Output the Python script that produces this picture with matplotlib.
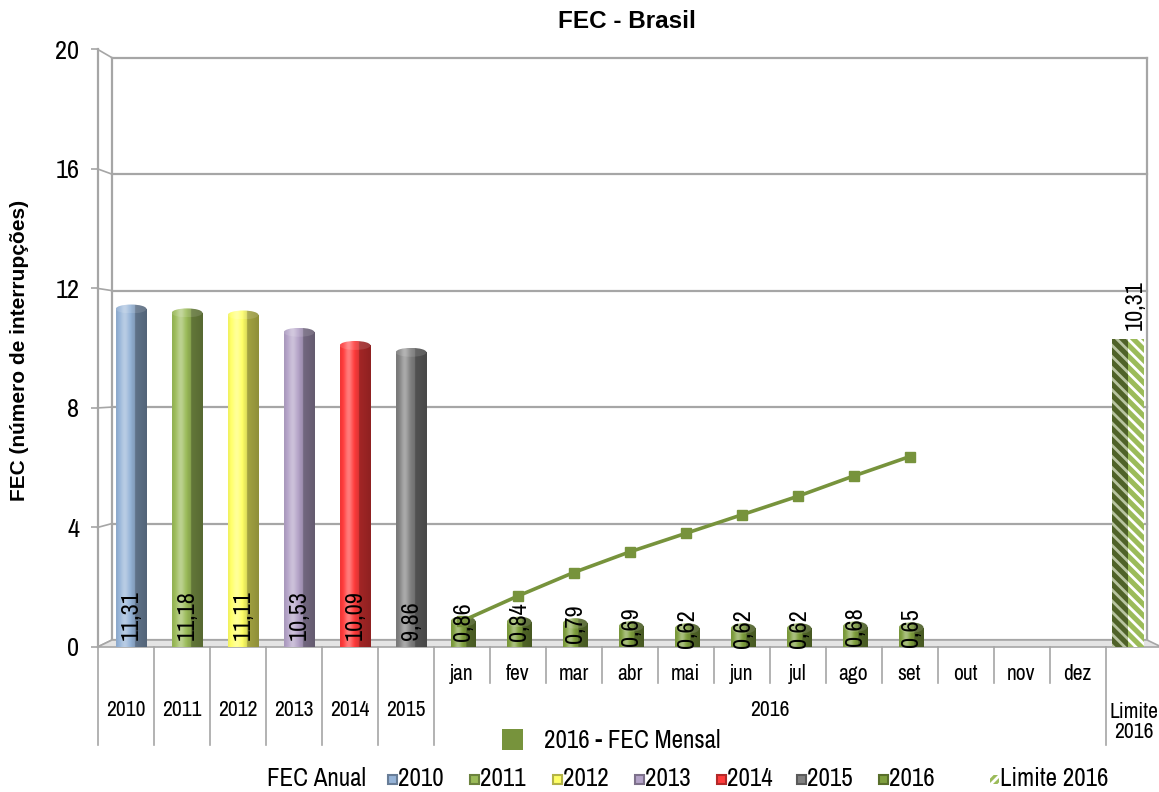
import numpy as np
import matplotlib
matplotlib.use("Agg")
import matplotlib.pyplot as plt
from matplotlib.patches import Rectangle, Ellipse, Polygon
from matplotlib.colors import to_rgb

plt.rcParams['font.family'] = ['Archivo Narrow', 'Liberation Sans', 'DejaVu Sans']
plt.rcParams['hatch.linewidth'] = 2.0

# FEC anual (2010-2015)
anos = ['2010', '2011', '2012', '2013', '2014', '2015']
fec_anual = [11.31, 11.18, 11.11, 10.53, 10.09, 9.86]
cores_anual = ['#95B3D7', '#9BBB59', '#FFFF66', '#B3A2C7', '#FF3B3B', '#808080']

# FEC mensal 2016 e acumulado
meses = ['jan', 'fev', 'mar', 'abr', 'mai', 'jun', 'jul', 'ago', 'set', 'out', 'nov', 'dez']
fec_mensal_2016 = [0.86, 0.84, 0.79, 0.69, 0.62, 0.62, 0.62, 0.68, 0.65]
fec_acumulado_2016 = [0.86, 1.70, 2.49, 3.18, 3.80, 4.42, 5.04, 5.72, 6.37]
cor_2016 = '#7F9F3E'
cor_linha = '#77933C'

limite_2016 = 10.31

W, H = 1159, 792
PX_UNIT = (647 - 49.3) / 20
GRID = '#A6A6A6'


def fx(px):
    return px / W


def fy(py):
    return 1 - py / H


def xpx(px):
    # pixel column -> category coordinate
    return (px - 97.5) / 56 - 0.5


def ypx(py):
    # pixel row -> value coordinate
    return (647 - py) / PX_UNIT


def back_y(v):
    # back wall sits a little lower/smaller (3D look)
    return ypx(640) + v * (640 - 57.7) / 20 / PX_UNIT


def fmt(v):
    return f'{v:.2f}'.replace('.', ',')


def shade(base, lift=0.0, n=96):
    c = np.array(to_rgb(base))
    t = np.linspace(0, 1, n)
    front = t < 0.62
    f = np.where(front,
                 0.93 + 0.4 * np.exp(-((t - 0.28) / 0.15) ** 2) - 0.05 * np.clip((t - 0.45) / 0.17, 0, 1),
                 0.64 - 0.08 * (t - 0.62) / 0.38)
    f = f[:, None]
    rgb = np.where(f >= 1, c + (1 - c) * (f - 1), c * f)
    rgb = rgb + (1 - rgb) * lift
    return np.clip(rgb, 0, 1)[None, :, :]


def cylinder(ax, rect, base, cap_h):
    x0, w, h = rect.get_x(), rect.get_width(), rect.get_height()
    body = ax.imshow(shade(base), extent=[x0, x0 + w, 0, h], aspect='auto',
                     interpolation='bilinear', zorder=rect.get_zorder() + 0.1)
    body.set_clip_path(rect)
    cap = Ellipse((x0 + w / 2, h), w, cap_h, facecolor='none', edgecolor='none')
    ax.add_patch(cap)
    top = ax.imshow(shade(base, lift=0.12), extent=[x0, x0 + w, h - cap_h / 2, h + cap_h / 2],
                    aspect='auto', interpolation='bilinear', zorder=rect.get_zorder() + 0.2)
    top.set_clip_path(cap)


fig = plt.figure(figsize=(W / 100, H / 100), dpi=100)
ax = fig.add_axes([fx(97.5), fy(647), 19 * 56 / W, (647 - 49.3) / H])
ax.set_facecolor('none')
for s in ax.spines.values():
    s.set_visible(False)
ax.set_xticks([])
ax.set_yticks(range(0, 21, 4))
ax.tick_params(axis='y', length=5, width=1.2, color=GRID, labelsize=19, pad=8)

# back wall, grid and floor
BX_L, BX_R = xpx(112), xpx(1147)
for v in range(0, 21, 4):
    ax.plot([BX_L, BX_R], [back_y(v)] * 2, color=GRID, lw=1.6, zorder=1)
    ax.plot([-0.5, BX_L], [v, back_y(v)], color=GRID, lw=1.2, zorder=1, clip_on=False)
ax.plot([BX_L, BX_L], [back_y(0), back_y(20)], color=GRID, lw=1.6, zorder=1)
ax.plot([BX_R, BX_R], [back_y(0), back_y(20)], color=GRID, lw=1.6, zorder=1)
ax.plot([-0.5, -0.5], [0, 20], color=GRID, lw=1.6, zorder=1, clip_on=False)
ax.add_patch(Polygon([(-0.5, 0), (18.5, 0), (BX_R, back_y(0)), (BX_L, back_y(0))],
                     closed=True, facecolor='#E4E4E4', edgecolor=GRID, lw=1.2,
                     zorder=1.5, clip_on=False))

# annual bars
x_anos = np.arange(len(anos)) + 0.1
barras = ax.bar(x_anos, fec_anual, width=0.55, color=cores_anual, zorder=3)
for rect, cor, v in zip(barras, cores_anual, fec_anual):
    cylinder(ax, rect, cor, 0.3)
    ax.text(rect.get_x() + rect.get_width() / 2, ypx(640), fmt(v), rotation=90,
            ha='center', va='bottom', fontsize=17.5, zorder=6)

# monthly bars 2016
x_meses = np.arange(len(fec_mensal_2016)) + 6.03
barras_m = ax.bar(x_meses, fec_mensal_2016, width=0.44, color=cor_2016, zorder=3)
for rect, v in zip(barras_m, fec_mensal_2016):
    cylinder(ax, rect, cor_2016, 0.35)
    ax.text(rect.get_x() + rect.get_width() / 2, v, fmt(v), rotation=90,
            ha='center', va='center', fontsize=17.5, zorder=6)

# cumulative 2016 line
x_linha = np.arange(len(fec_acumulado_2016)) + 6
ax.plot(x_linha, fec_acumulado_2016, color=cor_linha, lw=2.6, marker='s',
        markersize=7, zorder=5)

# limit 2016 bar (hatched)
lim = ax.bar([17.9], [limite_2016], width=0.56, color='#9BBB59', hatch='\\\\\\',
             edgecolor='white', lw=0, zorder=3)[0]
ax.add_patch(Rectangle((lim.get_x(), 0), lim.get_width() / 2, limite_2016,
                       facecolor='#4F6228', hatch='\\\\\\', edgecolor='#B8C4A0',
                       lw=0, zorder=3.1))
ax.text(18.04, limite_2016 + 0.3, fmt(limite_2016), rotation=90, ha='center',
        va='bottom', fontsize=17.5, zorder=6, clip_on=False)

# category axis below the floor
for xb in [-0.5, 0.5, 1.5, 2.5, 3.5, 4.5, 5.5, 17.5]:
    ax.plot([xb, xb], [0, ypx(745)], color=GRID, lw=1.2, clip_on=False)
for xb in np.arange(6.5, 17, 1.0):
    ax.plot([xb, xb], [0, ypx(683)], color=GRID, lw=1.2, clip_on=False)
for i, a in enumerate(anos):
    ax.text(i, ypx(710), a, ha='center', va='center', fontsize=15.5, clip_on=False)
for j, m in enumerate(meses):
    ax.text(6 + j, ypx(674), m, ha='center', va='center', fontsize=15.5, clip_on=False)
ax.text(11.5, ypx(710), '2016', ha='center', va='center', fontsize=15.5, clip_on=False)
ax.text(18, ypx(722), 'Limite\n2016', ha='center', va='center', fontsize=15.5,
        linespacing=1.0, clip_on=False)

ax.set_xlim(-0.5, 18.5)
ax.set_ylim(0, 20)

# titles
fig.text(fx(627), fy(22), 'FEC - Brasil', ha='center', va='center', fontsize=17.5,
         fontweight='bold', family=['Liberation Sans', 'DejaVu Sans'])
fig.text(fx(20), fy(350), 'FEC (número de interrupções)', rotation=90, ha='center',
         va='center', fontsize=15, fontweight='bold', family=['Liberation Sans', 'DejaVu Sans'])

# legend: monthly series
fig.patches.append(Rectangle((fx(502), fy(750)), 21 / W, 21 / H, transform=fig.transFigure,
                             facecolor=cor_linha, edgecolor='none'))
fig.text(fx(544), fy(740), '2016 - FEC Mensal', ha='left', va='center', fontsize=18)

# legend: annual series
fig.text(fx(366), fy(779), 'FEC Anual', ha='right', va='center', fontsize=18)
itens = list(zip(anos + ['2016'], cores_anual + [cor_2016]))
icones_x = [388, 470, 553, 635, 717, 797, 879]
for (rot, cor), ix in zip(itens, icones_x):
    esc = tuple(np.array(to_rgb(cor)) * 0.7)
    fig.patches.append(Rectangle((fx(ix), fy(784)), 9 / W, 9 / H, transform=fig.transFigure,
                                 facecolor=cor, edgecolor=esc, lw=1.5))
    fig.text(fx(ix + 10), fy(779), rot, ha='left', va='center', fontsize=18)
fig.patches.append(Rectangle((fx(990), fy(784)), 9 / W, 9 / H, transform=fig.transFigure,
                             facecolor='#9BBB59', hatch='////', edgecolor='white', lw=0))
fig.text(fx(1000), fy(779), 'Limite 2016', ha='left', va='center', fontsize=18)

fig.savefig('out.png', dpi=100)
